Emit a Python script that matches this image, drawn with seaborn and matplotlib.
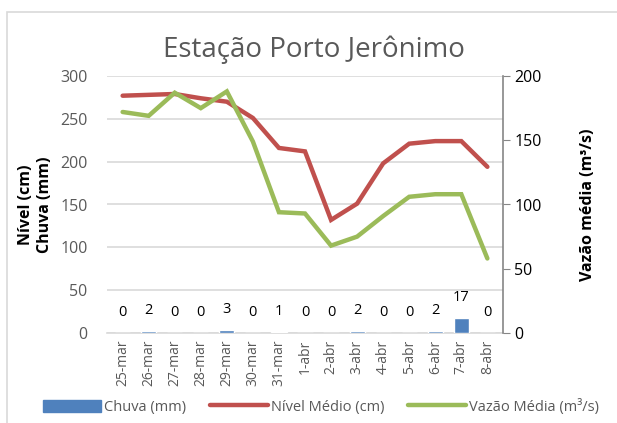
import numpy as np
import pandas as pd
import matplotlib.pyplot as plt
import seaborn as sns
from matplotlib.patches import Patch, Rectangle
from matplotlib.lines import Line2D

# dados
datas = ['25-mar', '26-mar', '27-mar', '28-mar', '29-mar', '30-mar', '31-mar', '1-abr',
         '2-abr', '3-abr', '4-abr', '5-abr', '6-abr', '7-abr', '8-abr']
chuva = [0, 2, 0, 0, 3, 0, 1, 0, 0, 2, 0, 0, 2, 17, 0]
nivel = [277, 278, 279, 274, 270, 251, 216, 212, 132, 151, 198, 221, 224, 224, 194]
vazao = [172, 169, 187, 175, 188, 149, 94, 93, 68, 75, 91, 106, 108, 108, 58]

df = pd.DataFrame({'Data': datas, 'Chuva': chuva, 'Nivel': nivel, 'Vazao': vazao})
df['pos'] = np.arange(len(df))

sns.set_style('white')
plt.rcParams['font.family'] = ['Open Sans', 'DejaVu Sans']

azul = '#4F81BD'
vermelho = '#C0504D'
verde = '#9BBB59'
cinza = '#595959'

fig = plt.figure(figsize=(6.17, 4.23), dpi=100)
ax = fig.add_axes([107 / 617, 1 - 333 / 423, 396 / 617, 257 / 423])

# borda da area do grafico
fig.patches.append(Rectangle((7 / 617, -0.1), 1.2, (423 - 12) / 423 + 0.1,
                             transform=fig.transFigure, fill=False,
                             edgecolor='#D9D9D9', linewidth=1.2))

sns.barplot(data=df, x='Data', y='Chuva', color=azul, width=0.58, saturation=1,
            ax=ax, zorder=3)
for i, v in enumerate(chuva):
    ax.annotate(str(v), (i, v), xytext=(0, 15), textcoords='offset points',
                ha='center', va='center', fontsize=10.5, color='black')

sns.lineplot(data=df, x='pos', y='Nivel', color=vermelho, linewidth=3.2, ax=ax,
             zorder=4, solid_capstyle='round', solid_joinstyle='miter')

ax.set_ylim(0, 300)
ax.set_xlim(-0.6, len(datas) - 0.4)
ax.set_yticks(range(0, 301, 50))
ax.set_xticks(range(len(datas)))
ax.set_xticklabels(datas, rotation=90, color=cinza, fontsize=10)
ax.tick_params(axis='y', colors=cinza, labelsize=11.5, length=0, pad=14)
ax.tick_params(axis='x', length=0, pad=5)
ax.yaxis.grid(True, color='#D9D9D9', linewidth=1.2)
ax.set_axisbelow(True)
for s in ['left', 'right', 'top']:
    ax.spines[s].set_visible(False)
ax.spines['bottom'].set_color('#D9D9D9')
ax.spines['bottom'].set_linewidth(1.2)
ax.spines['bottom'].set_zorder(1)
ax.set_xlabel('')
ax.set_ylabel('Nível (cm)\nChuva (mm)', fontweight='bold', fontsize=11.5,
              color='black', labelpad=5, linespacing=1.25)

ax2 = ax.twinx()
sns.lineplot(data=df, x='pos', y='Vazao', color=verde, linewidth=3.2, ax=ax2,
             zorder=3, solid_capstyle='round', solid_joinstyle='miter')
ax2.set_ylim(0, 200)
ax2.set_yticks(range(0, 201, 50))
ax2.tick_params(axis='y', colors='black', labelsize=11.5, length=5,
                direction='out', pad=3)
ax2.tick_params(axis='y', color='#868686')
for s in ['left', 'top', 'bottom']:
    ax2.spines[s].set_visible(False)
ax2.spines['right'].set_color('#868686')
ax2.spines['right'].set_linewidth(1.2)
ax2.set_ylabel('Vazão média (m³/s)', fontweight='bold', fontsize=11.5,
               color='black', labelpad=28)
ax2.set_xlabel('')

fig.text(0.509, 1 - 50 / 423, 'Estação Porto Jerônimo', ha='center', va='center',
         fontsize=20, color=cinza)

handles = [Patch(facecolor=azul, edgecolor=azul),
           Line2D([], [], color=vermelho, linewidth=3.2, solid_capstyle='round'),
           Line2D([], [], color=verde, linewidth=3.2, solid_capstyle='round')]
labels = ['Chuva (mm)', 'Nível Médio (cm)', 'Vazão Média (m³/s)']
leg = fig.legend(handles, labels, loc='center', bbox_to_anchor=(0.52, 1 - 407 / 423),
                 ncol=3, frameon=False, fontsize=10.5, handlelength=4.0,
                 handleheight=0.9, handletextpad=0.2, columnspacing=1.6)
for t in leg.get_texts():
    t.set_color(cinza)

fig.savefig('out.png', dpi=100)
